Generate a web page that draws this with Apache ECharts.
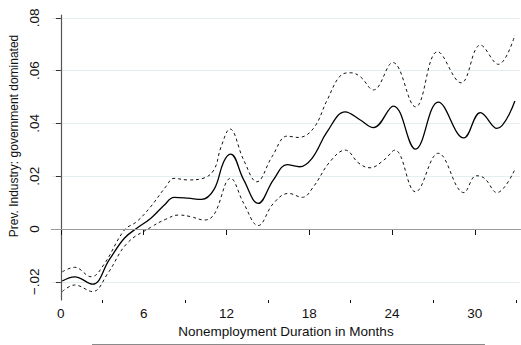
<!DOCTYPE html>
<html>
<head>
<meta charset="utf-8">
<script src="https://cdn.jsdelivr.net/npm/echarts@6/dist/echarts.min.js"></script>
<style>
html,body{margin:0;padding:0;background:#fff;}
#c{width:521px;height:345px;}
</style>
</head>
<body>
<div id="c"></div>
<script>
// Estimate (solid line)
const monthsMid = [0.1,1.0,2.3,3.5,4.6,5.5,6.5,7.5,8.2,9.2,10.2,11.1,11.8,12.3,13.25,14.3,15.4,16.4,17.3,18.2,19.3,20.6,21.7,22.65,24.1,25.7,27.35,29.2,30.4,31.6,32.9];
const valuesMid = [-0.0197,-0.0181,-0.0209,-0.0117,-0.0035,0.0003,0.0040,0.0091,0.0120,0.0117,0.0112,0.0150,0.0255,0.0284,0.0186,0.0097,0.0186,0.0244,0.0236,0.0268,0.0369,0.0444,0.0413,0.0384,0.0466,0.0303,0.0481,0.0345,0.0441,0.0381,0.0485];
// Upper confidence bound (dashed)
const monthsUp = [0.1,1.0,2.2,3.1,4.6,5.5,6.5,7.6,8.2,9.2,10.3,11.1,11.6,12.25,13.25,14.2,15.3,16.4,17.2,18.3,19.3,20.3,21.0,21.7,22.65,24.05,25.7,27.3,29.0,30.4,31.7,32.9];
const valuesUp = [-0.0162,-0.0145,-0.0181,-0.0136,-0.0004,0.0028,0.0084,0.0160,0.0192,0.0186,0.0192,0.0225,0.0310,0.0379,0.0261,0.0179,0.0274,0.0352,0.0347,0.0381,0.0489,0.0583,0.0592,0.0577,0.0527,0.0631,0.0463,0.0672,0.0554,0.0697,0.0624,0.0735];
// Lower confidence bound (dashed)
const monthsLo = [0.1,1.0,2.3,3.4,4.8,6.5,7.6,8.55,9.4,10.4,11.1,12.3,13.25,14.3,15.4,16.5,17.5,18.3,19.5,20.6,21.6,22.4,23.4,24.2,25.7,27.35,29.2,30.1,30.7,31.6,32.9];
const valuesLo = [-0.0237,-0.0212,-0.0237,-0.0168,-0.0054,0.0006,0.0037,0.0053,0.0047,0.0034,0.0055,0.0192,0.0097,0.0013,0.0097,0.0135,0.0120,0.0160,0.0255,0.0299,0.0249,0.0232,0.0261,0.0299,0.0141,0.0287,0.0138,0.0202,0.0192,0.0138,0.0226];

const xMajorTicks = [0,6,12,18,24,30];
const xMinorTicks = [3,9,15,21,27,33];
const yTicks = [-0.02,0,0.02,0.04,0.06,0.08];
const xTitle = 'Nonemployment Duration in Months';
const yTitle = 'Prev. Industry: government dominated';

function pairs(xs, ys){ return xs.map((x,i)=>[x, ys[i]]); }
function fmtY(v){
  if (Math.abs(v) < 1e-9) return '0';
  let s = Math.abs(v).toFixed(2).replace(/^0/, '');
  return (v < 0 ? '\u2212' : '') + s;
}

const FONT = 'Liberation Sans, Arial, Helvetica, sans-serif';
const chart = echarts.init(document.getElementById('c'), null, {renderer:'svg'});
chart.setOption({
  animation: false,
  backgroundColor: '#ffffff',
  grid: {left: 51, right: 1, top: 15, bottom: 45, containLabel: false},
  xAxis: [{
    type: 'value', min: -0.65, max: 33.27,
    axisLine: {show: true, lineStyle: {color: '#111', width: 1}},
    axisTick: {show: true, length: 6, customValues: xMajorTicks, lineStyle: {color: '#111'}},
    axisLabel: {show: true, customValues: xMajorTicks, margin: 6, color: '#111', fontSize: 13.5, fontFamily: FONT},
    splitLine: {show: false},
    name: xTitle, nameLocation: 'middle', nameGap: 21,
    nameTextStyle: {color: '#111', fontSize: 13.5, fontFamily: FONT}
  },{
    type: 'value', min: -0.65, max: 33.27, position: 'bottom',
    axisLine: {show: false},
    axisTick: {show: true, length: 3, customValues: xMinorTicks, lineStyle: {color: '#111'}},
    axisLabel: {show: false},
    splitLine: {show: false}
  }],
  yAxis: {
    type: 'value', min: -0.0269, max: 0.0811,
    axisLine: {show: true, lineStyle: {color: '#555', width: 1.2}},
    axisTick: {show: true, length: 5, customValues: yTicks, lineStyle: {color: '#333'}},
    axisLabel: {show: true, customValues: yTicks, rotate: 90, margin: 10, color: '#111', fontSize: 13.5, fontFamily: FONT, formatter: fmtY},
    splitLine: {show: true, lineStyle: {color: '#e4eef1', width: 1}},
    name: yTitle, nameLocation: 'middle', nameGap: 25, nameRotate: 90,
    nameTextStyle: {color: '#111', fontSize: 12, fontFamily: FONT, padding: [0,0,0,43]}
  },
  graphic: [{
    type: 'line', silent: true,
    shape: {x1: 92, y1: 344.5, x2: 485, y2: 344.5},
    style: {stroke: '#8a8a8a', lineWidth: 1}
  }],
  series: [
    {
      type: 'line', data: pairs(monthsUp, valuesUp), smooth: 0.4, symbol: 'none',
      lineStyle: {color: '#111', width: 1, type: [3, 3]}
    },
    {
      type: 'line', data: pairs(monthsLo, valuesLo), smooth: 0.4, symbol: 'none',
      lineStyle: {color: '#111', width: 1, type: [3, 3]}
    },
    {
      type: 'line', data: pairs(monthsMid, valuesMid), smooth: 0.4, symbol: 'none',
      lineStyle: {color: '#000', width: 1.3},
      markLine: {
        silent: true, symbol: 'none', label: {show: false},
        lineStyle: {color: '#9a9a9a', width: 1.2, type: 'solid'},
        data: [{yAxis: 0}]
      },
      z: 3
    }
  ]
});
</script>
</body>
</html>
